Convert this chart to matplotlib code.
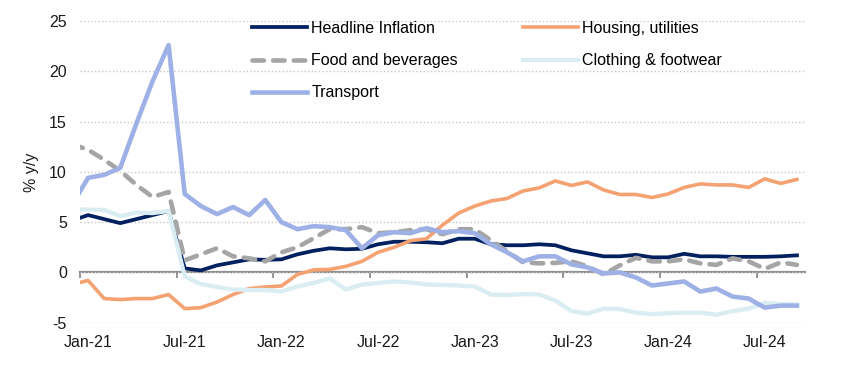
import numpy as np
import pandas as pd
import matplotlib
matplotlib.use("Agg")
import matplotlib.pyplot as plt

plt.rcParams['font.family'] = ['Liberation Sans', 'DejaVu Sans']
plt.rcParams['axes.unicode_minus'] = False

# monthly % y/y, Dec-20 .. Sep-24 (Dec-20 lies just left of the axis and gets clipped)
months = pd.date_range("2020-12-01", "2024-09-01", freq="MS")

headline = [5.15,
            5.7, 5.3, 4.9, 5.3, 5.7, 6.1, 0.4, 0.2, 0.7, 1.0, 1.3, 1.25,
            1.3, 1.8, 2.15, 2.4, 2.3, 2.35, 2.8, 3.05, 3.05, 3.0, 2.9, 3.35,
            3.35, 2.8, 2.7, 2.7, 2.8, 2.7, 2.2, 1.9, 1.6, 1.6, 1.75, 1.5,
            1.5, 1.85, 1.6, 1.6, 1.55, 1.55, 1.55, 1.6, 1.7]
housing = [-1.2,
           -0.8, -2.6, -2.7, -2.6, -2.6, -2.2, -3.6, -3.5, -2.95, -2.2, -1.6, -1.45,
           -1.35, -0.2, 0.25, 0.3, 0.6, 1.1, 2.0, 2.5, 3.15, 3.35, 4.7, 5.9,
           6.6, 7.1, 7.35, 8.1, 8.4, 9.1, 8.65, 9.0, 8.2, 7.75, 7.75, 7.45,
           7.8, 8.45, 8.8, 8.7, 8.7, 8.45, 9.3, 8.85, 9.25]
food = [12.75,
        12.2, 11.2, 10.1, 8.7, 7.5, 8.0, 1.2, 1.8, 2.4, 1.6, 1.4, 1.1,
        2.0, 2.5, 3.4, 4.3, 4.3, 4.5, 3.9, 4.0, 4.2, 4.3, 3.8, 4.3,
        4.3, 3.2, 2.1, 1.0, 0.9, 0.95, 1.1, 0.6, -0.2, 0.7, 1.45, 1.1,
        1.1, 1.3, 0.9, 0.75, 1.4, 1.1, 0.35, 1.0, 0.75]
clothing = [6.25,
            6.25, 6.2, 5.6, 5.95, 5.9, 6.1, -0.4, -1.15, -1.45, -1.7, -1.75, -1.75,
            -1.9, -1.4, -1.05, -0.6, -1.7, -1.2, -1.05, -0.9, -1.0, -1.2, -1.25, -1.3,
            -1.4, -2.2, -2.25, -2.15, -2.2, -2.8, -3.85, -4.1, -3.6, -3.65, -4.0, -4.15,
            -4.05, -4.0, -4.0, -4.2, -3.85, -3.6, -3.0, -3.15, -3.2]
transport = [6.7,
             9.4, 9.7, 10.4, 14.8, 19.0, 22.6, 7.8, 6.6, 5.8, 6.5, 5.7, 7.2,
             5.0, 4.3, 4.6, 4.5, 4.2, 2.4, 3.7, 4.0, 3.9, 4.4, 4.0, 4.1,
             3.9, 2.8, 2.0, 1.1, 1.6, 1.6, 0.8, 0.5, -0.1, 0.0, -0.5, -1.3,
             -1.1, -0.9, -1.9, -1.6, -2.4, -2.6, -3.5, -3.3, -3.3]

tick_labels = ['Jan-21', 'Jul-21', 'Jan-22', 'Jul-22', 'Jan-23', 'Jul-23', 'Jan-24', 'Jul-24']
y_ticks = [-5, 0, 5, 10, 15, 20, 25]

# category index, Jan-21 = 0
x = np.arange(len(months)) - 1
month_names = list(months.strftime('%b-%y'))
label_pos = [month_names.index(t) - 1 for t in tick_labels]

fig = plt.figure(figsize=(8.55, 3.75), dpi=100)
ax = fig.add_axes([80 / 855, 1 - 322.7 / 375, 725 / 855, 301.7 / 375])

ln_head, = ax.plot(x, headline, color='#002060', lw=2.7, label='Headline Inflation',
                   solid_joinstyle='round')
ln_house, = ax.plot(x, housing, color='#F5A273', lw=2.6, label='Housing, utilities',
                    solid_joinstyle='round')
ln_food, = ax.plot(x, food, color='#A5A5A5', lw=3.3, label='Food and beverages',
                   dashes=[2.5, 2.0], dash_capstyle='round')
ln_cloth, = ax.plot(x, clothing, color='#DAEDF3', lw=3.1, label='Clothing & footwear',
                    solid_joinstyle='round')
ln_trans, = ax.plot(x, transport, color='#9DB1E6', lw=3.3, label='Transport',
                    solid_joinstyle='round')

ymin, ymax = -5, 25
ax.set_xlim(-0.5, len(months) - 1.5)
ax.set_ylim(ymin, ymax)

for s in ax.spines.values():
    s.set_visible(False)

ax.set_yticks(y_ticks)
ax.grid(axis='y', color='#C8C8C8', lw=1.0, linestyle=(0, (1, 1.6)))
ax.set_axisbelow(True)
ax.tick_params(axis='y', length=0, pad=9.5, labelsize=11.5, colors='#1A1A1A')
ax.set_ylabel('% y/y', fontsize=11.5, color='#1A1A1A', labelpad=7)

ax.set_xticks(label_pos)
ax.set_xticklabels(tick_labels)
ax.tick_params(axis='x', length=0, pad=9, labelsize=11.5, colors='#1A1A1A')

# horizontal axis line crossing at zero, tick marks between categories
sec = ax.secondary_xaxis((0 - ymin) / (ymax - ymin))
sec.set_xticks(np.array(label_pos) - 0.5)
sec.tick_params(axis='x', direction='out', length=4, width=1.3, color='#8C8C8C',
                labelbottom=False)
sec.spines['bottom'].set_color('#8C8C8C')
sec.spines['bottom'].set_linewidth(1.6)

ax.legend(handles=[ln_head, ln_food, ln_trans, ln_house, ln_cloth], ncol=2,
          loc='upper left', bbox_to_anchor=(251.7 / 855, 1 - 21 / 375),
          bbox_transform=fig.transFigure, frameon=False, fontsize=11.5,
          handlelength=3.45, handletextpad=0.28, columnspacing=4.05,
          labelspacing=1.08, borderpad=0, borderaxespad=0)

fig.savefig('out.png', dpi=100)
